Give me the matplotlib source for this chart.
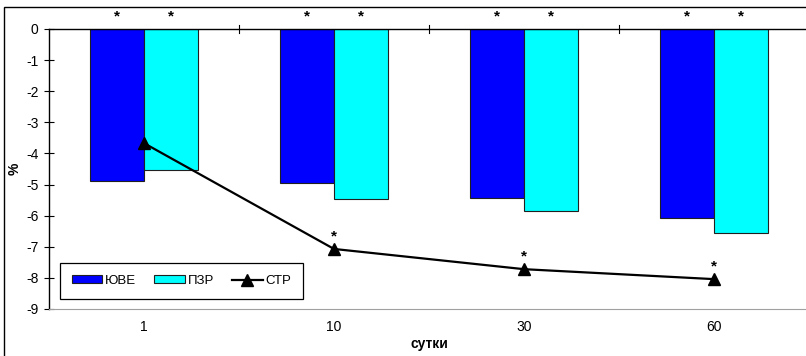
import matplotlib
matplotlib.use("Agg")
import matplotlib.pyplot as plt
import numpy as np
from matplotlib.patches import Rectangle

plt.rcParams['font.family'] = ['Liberation Sans', 'DejaVu Sans']

categories = ['1', '10', '30', '60']
yuve = [-4.9, -4.95, -5.42, -6.08]
pzr = [-4.52, -5.47, -5.85, -6.55]
str_vals = [-3.67, -7.07, -7.72, -8.04]
line_star = [False, True, True, True]
series_names = ['ЮВЕ', 'ПЗР', 'СТР']

W, H = 806, 356
fig = plt.figure(figsize=(W / 100, H / 100), dpi=100)
ax = fig.add_axes([49 / W, (H - 309) / H, 760 / W, 280 / H])

x = np.arange(len(categories))
bw = 0.284
b1 = ax.bar(x - bw / 2, yuve, bw, color='#0000FF', edgecolor='#202020', linewidth=0.8, label=series_names[0], zorder=2)
b2 = ax.bar(x + bw / 2, pzr, bw, color='#00FFFF', edgecolor='#202020', linewidth=0.8, label=series_names[1], zorder=2)
l1, = ax.plot(x, str_vals, color='black', linewidth=1.6, marker='^', markersize=8, label=series_names[2], zorder=3)

ax.set_xlim(-0.5, len(categories) - 0.5)
ax.set_ylim(-9, 0)
ax.set_yticks(np.arange(-9, 1, 1))
ax.set_yticklabels([str(v) for v in range(-9, 1)], fontsize=10)
ax.tick_params(axis='y', direction='inout', length=7, width=0.8, pad=4)

# x tick labels at bottom, boundary tick marks on the zero line
ax.set_xticks(x)
ax.set_xticklabels(categories, fontsize=10)
ax.tick_params(axis='x', length=0, pad=8)
for b in np.arange(-0.5, len(categories), 1.0)[1:]:
    ax.plot([b, b], [-0.12, 0.12], color='black', linewidth=0.8, clip_on=False, zorder=4)

ax.spines['top'].set_color('black')
ax.spines['top'].set_linewidth(1.0)
ax.spines['left'].set_linewidth(1.0)
ax.spines['bottom'].set_color('#a0a0a0')
ax.spines['right'].set_visible(False)

# asterisks
for i in range(len(categories)):
    for off in (-bw / 2, bw / 2):
        ax.text(x[i] + off, 0.18, '*', ha='center', va='bottom', fontsize=11, fontweight='bold', clip_on=False)
    if line_star[i]:
        ax.text(x[i], str_vals[i] + 0.17, '*', ha='center', va='bottom', fontsize=11, fontweight='bold')

ax.set_ylabel('%', fontsize=10, fontweight='bold')
ax.yaxis.set_label_coords(-0.036, 0.5)
ax.set_xlabel('сутки', fontsize=10, fontweight='bold', labelpad=2)

leg = ax.legend(handles=[b1, b2, l1], labels=series_names,
                loc='lower left', bbox_to_anchor=(0.0145, 0.036), borderaxespad=0,
                ncol=3, fontsize=9.5, frameon=True, fancybox=False, edgecolor='black', framealpha=1,
                handlelength=2.3, handleheight=0.55, columnspacing=1.4, handletextpad=0.2,
                borderpad=0.9)
leg.get_frame().set_linewidth(0.9)

# outer chart frame
fig.patches.append(Rectangle((4 / W, -0.1), 1.0, (H - 7) / H + 0.1, transform=fig.transFigure,
                             fill=False, edgecolor='black', linewidth=1.0))

fig.savefig('out.png', dpi=100)
